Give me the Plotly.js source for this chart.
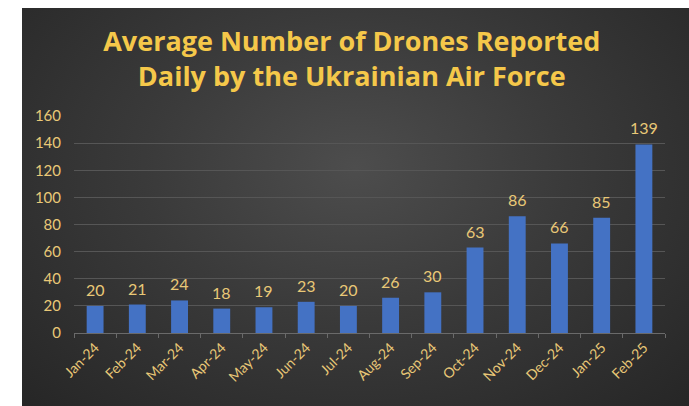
<!DOCTYPE html>
<html>
<head>
<meta charset="utf-8">
<script src="https://cdn.plot.ly/plotly-3.0.1.min.js"></script>
<style>
  html, body { margin: 0; padding: 0; background: #ffffff; }
  #wrap { position: relative; width: 689px; height: 406px; overflow: hidden; background: #ffffff; }
  #panel { position: absolute; left: 22px; top: 8px; width: 667px; height: 398px;
    background: radial-gradient(ellipse at 50% 40%, #4d4d4d 0%, #3a3a3a 45%, #262626 100%); }
  #chart { position: absolute; left: 0; top: 0; width: 689px; height: 406px; }
</style>
</head>
<body>
<div id="wrap"><div id="panel"></div><div id="chart"></div></div>
<script>
const months = ["Jan-24","Feb-24","Mar-24","Apr-24","May-24","Jun-24","Jul-24","Aug-24","Sep-24","Oct-24","Nov-24","Dec-24","Jan-25","Feb-25"];
const drones = [20, 21, 24, 18, 19, 23, 20, 26, 30, 63, 86, 66, 85, 139];
const yTicks = [0, 20, 40, 60, 80, 100, 120, 140, 160];
const chartTitle = "Average Number of Drones Reported<br>Daily by the Ukrainian Air Force";

const gold = "#e9c877";
const font = "Lato, 'Open Sans', sans-serif";
const trace = {
  type: "bar",
  x: months,
  y: drones,
  marker: { color: "#4472c4", line: { width: 0 } },
  hoverinfo: "skip"
};

const labels = months.map((m, i) => ({
  x: m, y: drones[i], xref: "x", yref: "y",
  text: String(drones[i]), showarrow: false,
  yanchor: "bottom", yshift: 5,
  font: { family: font, size: 16, color: gold }
}));

const layout = {
  width: 689, height: 406,
  paper_bgcolor: "rgba(0,0,0,0)",
  plot_bgcolor: "rgba(0,0,0,0)",
  margin: { l: 74, r: 24, t: 116, b: 73 },
  bargap: 0.6,
  showlegend: false,
  annotations: labels,
  title: {
    text: chartTitle,
    x: 0.47, xanchor: "center", xref: "paper",
    y: 0.875, yanchor: "middle", yref: "container",
    font: { family: "'Open Sans', sans-serif", size: 27, color: "#f5c84a", weight: "bold" }
  },
  xaxis: {
    type: "category",
    tickangle: -45,
    tickfont: { family: font, size: 14, color: gold },
    showgrid: false,
    showline: true, linecolor: "#6a6a6a", linewidth: 1,
    ticks: "outside", tickson: "boundaries", ticklen: 4, tickcolor: "#6a6a6a",
    zeroline: false
  },
  yaxis: {
    range: [0, 160],
    tickvals: yTicks,
    ticktext: yTicks.map(String),
    tickfont: { family: font, size: 15, color: gold },
    showgrid: true, gridcolor: "#565656", gridwidth: 1,
    zeroline: false, showline: false,
    ticklabelstandoff: 12
  }
};

Plotly.newPlot("chart", [trace], layout, { displayModeBar: false, staticPlot: true });
</script>
</body>
</html>
